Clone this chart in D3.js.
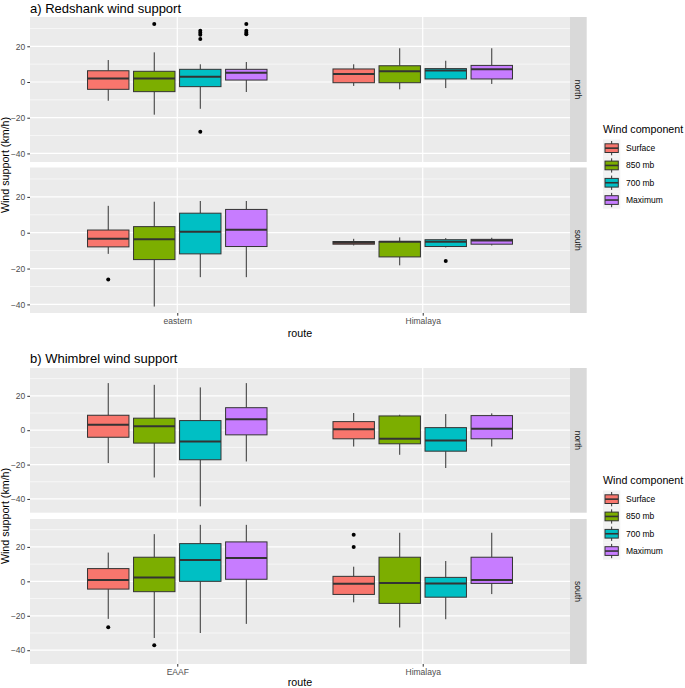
<!DOCTYPE html>
<html>
<head>
<meta charset="utf-8">
<script src="https://cdn.jsdelivr.net/npm/d3@7/dist/d3.min.js"></script>
<style>
  body { margin: 0; background: #fff; }
  svg { font-family: "Liberation Sans", Arial, sans-serif; }
</style>
</head>
<body>
<svg id="chart" width="685" height="688"></svg>
<script>
// Wind support boxplots, two species, faceted by season (north / south)

const components = ["Surface", "850 mb", "700 mb", "Maximum"];
const colours = ["#F8766D", "#7CAE00", "#00BFC4", "#C77CFF"];
const facets = ["north", "south"];

const redshankRoutes = ["eastern", "Himalaya"];
const whimbrelRoutes = ["EAAF", "Himalaya"];

const yTicks = [-40, -20, 0, 20];
const yMinor = [-30, -10, 10, 30];

// [lower whisker, q1, median, q3, upper whisker], one row per route x component
const redshankNorth = [
  [-10.5, -4.1, 1.9, 6.3, 12.3],
  [-18.3, -5.4, 1.9, 6.0, 16.6],
  [-15.0, -2.6, 3.0, 7.1, 9.9],
  [-5.6, 1.1, 5.2, 7.1, 11.2],
  [-2.2, -0.4, 4.5, 7.3, 9.9],
  [-4.1, -0.4, 6.0, 9.1, 18.9],
  [-3.4, 1.7, 6.5, 7.5, 11.9],
  [-1.1, 1.7, 7.1, 9.3, 18.9]
];
const redshankSouth = [
  [-11.8, -7.9, -3.4, 1.5, 15.0],
  [-41.2, -15.0, -3.7, 3.4, 17.3],
  [-24.8, -11.8, 0.6, 10.9, 17.7],
  [-24.8, -7.7, 1.7, 13.0, 17.7],
  [-7.1, -6.4, -5.6, -4.9, -3.4],
  [-18.2, -13.5, -5.0, -4.9, -2.6],
  [-8.2, -7.7, -5.1, -3.9, -3.0],
  [-7.1, -6.4, -4.3, -3.7, -2.8]
];
const whimbrelNorth = [
  [-19.1, -4.1, 3.2, 8.7, 27.4],
  [-27.5, -7.5, 2.3, 7.0, 26.4],
  [-44.3, -17.2, -6.6, 5.6, 24.9],
  [-18.2, -2.7, 6.4, 13.1, 27.4],
  [-9.5, -5.0, 0.6, 5.0, 10.0],
  [-14.3, -7.9, -5.0, 8.3, 9.0],
  [-22.0, -12.2, -6.0, 1.5, 9.4],
  [-9.5, -5.0, 0.8, 8.5, 9.8]
];
const whimbrelSouth = [
  [-21.8, -4.5, 0.8, 7.4, 16.7],
  [-32.9, -6.0, 2.3, 14.0, 27.4],
  [-30.0, 0.0, 12.4, 21.9, 32.8],
  [-24.7, 1.2, 13.6, 22.9, 32.8],
  [-12.2, -7.6, -1.4, 2.9, 8.5],
  [-26.8, -12.8, -1.0, 14.0, 28.2],
  [-22.0, -9.2, -1.2, 2.3, 11.8],
  [-7.4, -1.2, 0.8, 14.0, 28.2]
];

// outliers: [route index, component index, value]
const redshankNorthOut = [
  [0, 1, 32.5],
  [0, 2, 28.7], [0, 2, 27.6], [0, 2, 26.5], [0, 2, 24.1], [0, 2, -27.8],
  [0, 3, 32.5], [0, 3, 28.7], [0, 3, 27.6], [0, 3, 26.7]
];
const redshankSouthOut = [[0, 0, -26.1], [1, 2, -15.8]];
const whimbrelNorthOut = [];
const whimbrelSouthOut = [[0, 0, -26.6], [0, 1, -37.1], [1, 0, 27.0], [1, 0, 20.0]];

const svg = d3.select("#chart");
const left = 30, right = 570, stripW = 16.7;

drawPlot({
  title: "a) Redshank wind support",
  top: 0,
  routes: redshankRoutes,
  stats: [redshankNorth, redshankSouth],
  outliers: [redshankNorthOut, redshankSouthOut],
  domain: [-44.8, 36.4],
  panels: [[17, 162], [167.5, 313]]
});

drawPlot({
  title: "b) Whimbrel wind support",
  top: 350,
  routes: whimbrelRoutes,
  stats: [whimbrelNorth, whimbrelSouth],
  outliers: [whimbrelNorthOut, whimbrelSouthOut],
  domain: [-48, 36.2],
  panels: [[368, 512.7], [519, 664]]
});

function drawPlot(cfg) {

  const g = svg.append("g");

  const x = d3.scalePoint().domain(cfg.routes).range([left, right]).padding(0.6);
  const dodgeW = 0.75 * x.step();
  const xc = d3.scaleBand().domain(components)
    .range([-dodgeW / 2, dodgeW / 2])
    .paddingInner(0.1).paddingOuter(0.05);

  g.append("text")
    .attr("x", left)
    .attr("y", cfg.top + 13)
    .attr("font-size", 13)
    .attr("fill", "#000")
    .text(cfg.title);

  cfg.panels.forEach((p, fi) => {

    const y = d3.scaleLinear().domain(cfg.domain).range([p[1], p[0]]);
    const pg = g.append("g");

    pg.append("rect")
      .attr("x", left).attr("y", p[0])
      .attr("width", right - left).attr("height", p[1] - p[0])
      .attr("fill", "#EBEBEB");

    pg.selectAll(".minor").data(yMinor).enter().append("line")
      .attr("x1", left).attr("x2", right)
      .attr("y1", d => y(d)).attr("y2", d => y(d))
      .attr("stroke", "#fff").attr("stroke-width", 0.6);

    pg.selectAll(".major").data(yTicks).enter().append("line")
      .attr("x1", left).attr("x2", right)
      .attr("y1", d => y(d)).attr("y2", d => y(d))
      .attr("stroke", "#fff").attr("stroke-width", 1.2);

    pg.selectAll(".vmajor").data(cfg.routes).enter().append("line")
      .attr("x1", d => x(d)).attr("x2", d => x(d))
      .attr("y1", p[0]).attr("y2", p[1])
      .attr("stroke", "#fff").attr("stroke-width", 1.2);

    // y axis
    const yAxis = d3.axisLeft(y).tickValues(yTicks).tickSize(2.7).tickPadding(2);
    const ya = pg.append("g").attr("transform", `translate(${left},0)`).call(yAxis);
    ya.select(".domain").remove();
    ya.selectAll("line").attr("stroke", "#333");
    ya.selectAll("text").attr("fill", "#4D4D4D").attr("font-size", 8.5)
      .attr("font-family", "Liberation Sans, Arial, sans-serif");

    // boxes
    const rows = [];
    cfg.routes.forEach((r, ri) => {
      components.forEach((c, ci) => {
        rows.push({ route: r, comp: c, ci: ci, s: cfg.stats[fi][ri * components.length + ci] });
      });
    });

    const bx = d => x(d.route) + xc(d.comp);
    const bw = xc.bandwidth();

    const box = pg.selectAll(".box").data(rows).enter().append("g");

    box.append("line")
      .attr("x1", d => bx(d) + bw / 2).attr("x2", d => bx(d) + bw / 2)
      .attr("y1", d => y(d.s[4])).attr("y2", d => y(d.s[3]))
      .attr("stroke", "#333").attr("stroke-width", 1);
    box.append("line")
      .attr("x1", d => bx(d) + bw / 2).attr("x2", d => bx(d) + bw / 2)
      .attr("y1", d => y(d.s[1])).attr("y2", d => y(d.s[0]))
      .attr("stroke", "#333").attr("stroke-width", 1);
    box.append("rect")
      .attr("x", d => bx(d)).attr("width", bw)
      .attr("y", d => y(d.s[3]))
      .attr("height", d => Math.max(0.5, y(d.s[1]) - y(d.s[3])))
      .attr("fill", d => colours[d.ci])
      .attr("stroke", "#333").attr("stroke-width", 1);
    box.append("line")
      .attr("x1", d => bx(d)).attr("x2", d => bx(d) + bw)
      .attr("y1", d => y(d.s[2])).attr("y2", d => y(d.s[2]))
      .attr("stroke", "#333").attr("stroke-width", 2);

    pg.selectAll(".out").data(cfg.outliers[fi]).enter().append("circle")
      .attr("cx", d => x(cfg.routes[d[0]]) + xc(components[d[1]]) + bw / 2)
      .attr("cy", d => y(d[2]))
      .attr("r", 2)
      .attr("fill", "#000");

    // facet strip
    pg.append("rect")
      .attr("x", right).attr("y", p[0])
      .attr("width", stripW).attr("height", p[1] - p[0])
      .attr("fill", "#D9D9D9");
    const sy = (p[0] + p[1]) / 2;
    pg.append("text")
      .attr("transform", `translate(${right + stripW / 2},${sy}) rotate(90)`)
      .attr("text-anchor", "middle")
      .attr("dy", "0.35em")
      .attr("font-size", 8.5)
      .attr("fill", "#1A1A1A")
      .text(facets[fi]);

    // x axis under the bottom panel only
    if (fi === cfg.panels.length - 1) {
      const xAxis = d3.axisBottom(x).tickSize(2.7).tickPadding(2);
      const xa = pg.append("g").attr("transform", `translate(0,${p[1]})`).call(xAxis);
      xa.select(".domain").remove();
      xa.selectAll("line").attr("stroke", "#333");
      xa.selectAll("text").attr("fill", "#4D4D4D").attr("font-size", 8.5)
        .attr("font-family", "Liberation Sans, Arial, sans-serif");

      g.append("text")
        .attr("x", (left + right) / 2)
        .attr("y", Math.min(p[1] + 24, 686))
        .attr("text-anchor", "middle")
        .attr("font-size", 10.7)
        .attr("fill", "#000")
        .text("route");
    }
  });

  const midY = (cfg.panels[0][0] + cfg.panels[cfg.panels.length - 1][1]) / 2;

  g.append("text")
    .attr("transform", `translate(9,${midY}) rotate(-90)`)
    .attr("text-anchor", "middle")
    .attr("font-size", 10.7)
    .attr("fill", "#000")
    .text("Wind support (km/h)");

  // legend
  const lg = g.append("g").attr("transform", `translate(603,${midY - 32})`);
  lg.append("text")
    .attr("x", 0).attr("y", 0)
    .attr("font-size", 10.7)
    .attr("fill", "#000")
    .text("Wind component");

  const item = lg.selectAll(".key").data(components).enter().append("g")
    .attr("transform", (d, i) => `translate(0,${6.5 + i * 17.3})`);

  item.append("rect")
    .attr("width", 17.3).attr("height", 17.3)
    .attr("fill", "#F2F2F2");
  item.append("line")
    .attr("x1", 8.65).attr("x2", 8.65).attr("y1", 1.5).attr("y2", 15.8)
    .attr("stroke", "#333").attr("stroke-width", 1);
  item.append("rect")
    .attr("x", 2).attr("y", 4.3).attr("width", 13.3).attr("height", 8.7)
    .attr("fill", (d, i) => colours[i])
    .attr("stroke", "#333").attr("stroke-width", 1);
  item.append("line")
    .attr("x1", 2).attr("x2", 15.3).attr("y1", 8.65).attr("y2", 8.65)
    .attr("stroke", "#333").attr("stroke-width", 1.6);
  item.append("text")
    .attr("x", 23).attr("y", 8.65).attr("dy", "0.35em")
    .attr("font-size", 8.5)
    .attr("fill", "#000")
    .text(d => d);
}
</script>
</body>
</html>
